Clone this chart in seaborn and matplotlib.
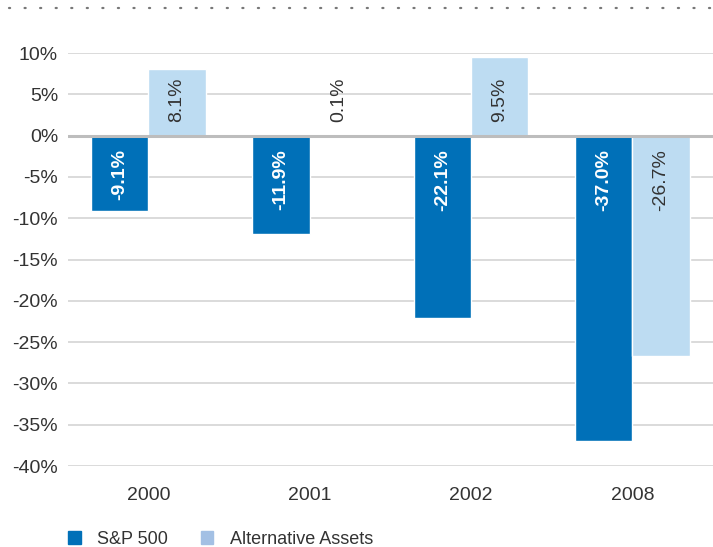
import numpy as np
import pandas as pd
import matplotlib.pyplot as plt
import seaborn as sns
from matplotlib.lines import Line2D
from matplotlib.patches import Patch

years = ["2000", "2001", "2002", "2008"]
sp500 = [-9.1, -11.9, -22.1, -37.0]
alt_assets = [8.1, 0.1, 9.5, -26.7]
series = ["S&P 500", "Alternative Assets"]
yticks = list(range(10, -45, -5))

BLUE = "#0070b8"
LIGHT = "#bddcf2"
LEGEND_LIGHT = "#a3c0e4"
TXT = "#333333"

df = pd.DataFrame({
    "year": years * 2,
    "value": sp500 + alt_assets,
    "series": [series[0]] * len(years) + [series[1]] * len(years),
})

sns.set_style("white")
plt.rcParams["font.family"] = ["Liberation Sans", "DejaVu Sans"]

fig = plt.figure(figsize=(7.13, 5.47), dpi=100)
ax = fig.add_axes([0.095, 0.148, 0.905, 0.755])

sns.barplot(data=df, x="year", y="value", hue="series", hue_order=series,
            palette=[BLUE, LIGHT], width=0.71, saturation=1, ax=ax,
            legend=False, errorbar=None, zorder=3)

ax.set_ylim(-40, 10)
ax.set_xlim(-0.5, 3.5)
ax.set_yticks(yticks)
ax.set_yticklabels([f"{t}%" for t in yticks])
ax.tick_params(axis="y", length=0, labelsize=14, labelcolor=TXT, pad=7)
ax.tick_params(axis="x", length=0, labelsize=14, labelcolor=TXT, pad=15)
ax.set_xlabel("")
ax.set_ylabel("")
for s in ax.spines.values():
    s.set_visible(False)
for t in yticks:
    if t == 0:
        ax.axhline(t, color="#bdbdbd", lw=2.2, zorder=4)
    else:
        ax.axhline(t, color="#d4d4d4", lw=1.2, zorder=1)

# value labels, rotated inside / above bars
for container, vals, color, weight in zip(ax.containers, [sp500, alt_assets],
                                          ["white", TXT], ["bold", "normal"]):
    for bar, v in zip(container, vals):
        xc = bar.get_x() + bar.get_width() / 2
        if v < 0:
            ax.text(xc, -1.6, f"{v:.1f}%", rotation=90, ha="center", va="top",
                    color=color, fontsize=14, fontweight=weight, zorder=5)
        else:
            ax.text(xc, 1.7, f"{v:.1f}%", rotation=90, ha="center", va="bottom",
                    color=color, fontsize=14, fontweight=weight, zorder=5)

# dotted rule at the top
fig.add_artist(Line2D([0.012, 1.0], [1 - 8 / 547] * 2, transform=fig.transFigure,
                      color="#777777", lw=1.6, linestyle=(0, (0.5, 6.5)),
                      dash_capstyle="round"))

handles = [Patch(color=BLUE), Patch(color=LEGEND_LIGHT)]
fig.legend(handles, series, loc="center left", bbox_to_anchor=(0.096, 0.014),
           ncol=2, frameon=False, fontsize=13, handlelength=0.7, handleheight=0.7,
           handletextpad=0.9, columnspacing=1.8, labelcolor=TXT,
           borderpad=0.0, borderaxespad=0.0)

fig.savefig("out.png", dpi=100)
